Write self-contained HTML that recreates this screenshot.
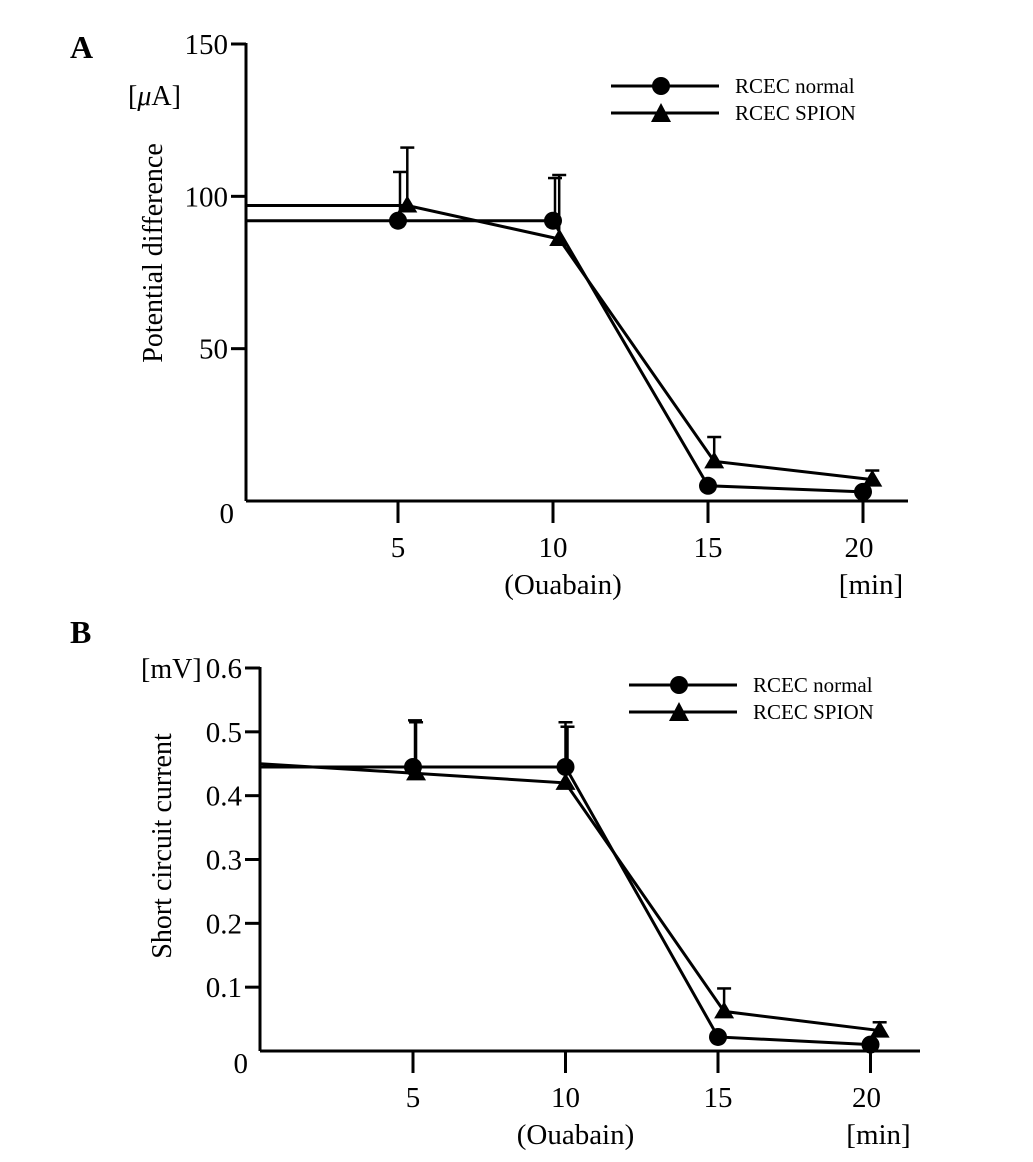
<!DOCTYPE html>
<html><head><meta charset="utf-8"><style>
body{margin:0;background:#fff;}
svg{display:block;font-family:"Liberation Serif",serif;}
</style></head><body>
<svg id="chart" width="1033" height="1162" viewBox="0 0 1033 1162"></svg>
<script>
// Panel A data
const aCategories=[5,10,15,20];
const aTicksY=[0,50,100,150];
const aNormalX=[5,10,15,20];
const aNormalY=[92,92,5,3];
const aNormalErr=[108,106,5,3];
const aSpionX=[5.3,10.2,15.2,20.3];
const aSpionY=[97,86,13,7];
const aSpionErr=[116,107,21,10];
const aStartNormal=92, aStartSpion=97;
// Panel B data
const bCategories=[5,10,15,20];
const bTicksY=[0,0.1,0.2,0.3,0.4,0.5,0.6];
const bNormalX=[5,10,15,20];
const bNormalY=[0.445,0.445,0.022,0.01];
const bNormalErr=[0.518,0.508,0.022,0.01];
const bSpionX=[5.1,10,15.2,20.3];
const bSpionY=[0.435,0.42,0.062,0.032];
const bSpionErr=[0.515,0.515,0.098,0.045];
const bStartNormal=0.445, bStartSpion=0.45;

const svg=document.getElementById('chart');
const NS='http://www.w3.org/2000/svg';
function el(tag,attrs,parent,text){const e=document.createElementNS(NS,tag);for(const k in attrs)e.setAttribute(k,attrs[k]);if(text!==undefined)e.textContent=text;(parent||svg).appendChild(e);return e;}

function panel(cfg){
  const g=el('g',{});
  
  
  const sx=v=>cfg.x5+(v-5)*cfg.xs;
  const sy=v=>cfg.y0-v*cfg.ys;
  const S={stroke:'#000','stroke-width':3,fill:'none'};
  const ya=el('line',Object.assign({x1:cfg.ax,y1:sy(cfg.ymax)-1,x2:cfg.ax,y2:cfg.y0},S),g);
  
  const xa=el('line',Object.assign({x1:cfg.ax,y1:cfg.y0,x2:cfg.xend,y2:cfg.y0},S),g);
  
  cfg.ticksY.forEach((t,i)=>{
    if(t>0){const tk=el('line',Object.assign({x1:cfg.ax-15,y1:sy(t),x2:cfg.ax,y2:sy(t)},S),g);
      }
    const lb=el('text',{x:cfg.ax-(t===0?12:18),y:sy(t)+(t===0?22:10),'text-anchor':'end','font-size':29},g,cfg.fmt(t));
    
  });
  cfg.cats.forEach(c=>{
    const tk=el('line',Object.assign({x1:sx(c),y1:cfg.y0,x2:sx(c),y2:cfg.y0+22},S),g);
    
    const lb=el('text',{x:sx(c)-(c===20?4:0),y:cfg.y0+56,'text-anchor':'middle','font-size':29},g,String(c));
    
  });
  let t=el('text',{x:sx(10)+10,y:cfg.y0+93,'text-anchor':'middle','font-size':29},g,'(Ouabain)');
  
  t=el('text',{x:sx(20)+8,y:cfg.y0+93,'text-anchor':'middle','font-size':29},g,'[min]');
  
  t=el('text',{x:cfg.unitX,y:cfg.unitY,'font-size':28},g);
  
  t.innerHTML=cfg.unit;
  t=el('text',{transform:`translate(${cfg.titleX},${cfg.titleY}) rotate(-90)`,'text-anchor':'middle','font-size':28},g,cfg.title);
  
  t=el('text',{x:cfg.letterX,y:cfg.letterY,'font-size':32,'font-weight':'bold'},g,cfg.letter);
  
  function series(xs,ys,errs,start,kind,name){
    const sg=el('g',{},g);
    
    let pts=[[cfg.ax,sy(start)]].concat(xs.map((x,i)=>[sx(x),sy(ys[i])]));
    const pl=el('polyline',{points:pts.map(p=>p.join(',')).join(' '),stroke:'#000','stroke-width':3,fill:'none'},sg);
    
    xs.forEach((x,i)=>{
      if(errs[i]>ys[i]){
        const ex=sx(x)+(kind==='c'?2:0);
        const e1=el('line',{x1:ex,y1:sy(ys[i]),x2:ex,y2:sy(errs[i]),stroke:'#000','stroke-width':2.5},sg);
        
        const e2=el('line',{x1:ex-7,y1:sy(errs[i]),x2:ex+7,y2:sy(errs[i]),stroke:'#000','stroke-width':2.5},sg);
        
      }
      const px=sx(x),py=sy(ys[i]);
      let m;
      if(kind==='c')m=el('circle',{cx:px,cy:py,r:9,fill:'#000'},sg);
      else m=el('polygon',{points:`${px},${py-10} ${px+10},${py+7} ${px-10},${py+7}`,fill:'#000'},sg);
      
    });
  }
  series(cfg.nx,cfg.ny,cfg.ne,cfg.ns,'c','series-normal');
  series(cfg.spx,cfg.spy,cfg.spe,cfg.sps,'t','series-spion');
  const lg=el('g',{},g);
  
  [['RCEC normal','c',0],['RCEC SPION','t',27]].forEach(([lab,k,dy])=>{
    const y=cfg.legY+dy;
    const le=el('g',{},lg);
    
    el('line',{x1:cfg.legX,y1:y,x2:cfg.legX+108,y2:y,stroke:'#000','stroke-width':3},le);
    const cx=cfg.legX+50;
    if(k==='c')el('circle',{cx:cx,cy:y,r:9,fill:'#000'},le);
    else el('polygon',{points:`${cx},${y-10} ${cx+10},${y+9} ${cx-10},${y+9}`,fill:'#000'},le);
    el('text',{x:cfg.legX+124,y:y+7,'font-size':21},le,lab);
  });
}
panel({name:'panel-a',letter:'A',letterX:70,letterY:58,ax:246,y0:501,ys:457/150,ymax:150,x5:398,xs:31,xend:908,
  ticksY:aTicksY,cats:aCategories,fmt:v=>String(v),
  nx:aNormalX,ny:aNormalY,ne:aNormalErr,ns:aStartNormal,
  spx:aSpionX,spy:aSpionY,spe:aSpionErr,sps:aStartSpion,
  unit:'[<tspan font-style="italic">μ</tspan>A]',unitX:128,unitY:105,title:'Potential difference',titleX:162,titleY:253,
  legX:611,legY:86});
panel({name:'panel-b',letter:'B',letterX:70,letterY:643,ax:260,y0:1051,ys:383/0.6,ymax:0.6,x5:413,xs:30.5,xend:920,
  ticksY:bTicksY,cats:bCategories,fmt:v=>v===0?'0':v.toFixed(1),
  nx:bNormalX,ny:bNormalY,ne:bNormalErr,ns:bStartNormal,
  spx:bSpionX,spy:bSpionY,spe:bSpionErr,sps:bStartSpion,
  unit:'[mV]',unitX:141,unitY:678,title:'Short circuit current',titleX:171,titleY:846,
  legX:629,legY:685});
</script>
</body></html>
